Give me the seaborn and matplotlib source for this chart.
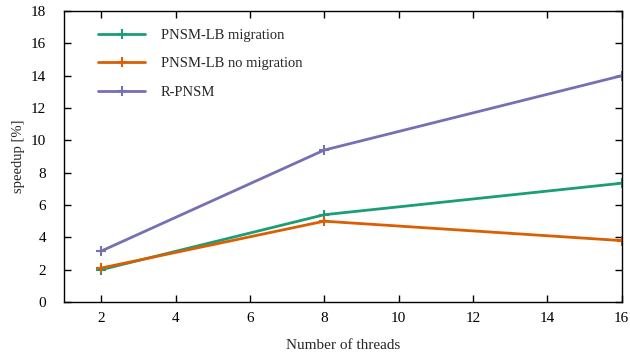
import matplotlib
matplotlib.use("Agg")
import matplotlib.pyplot as plt
import seaborn as sns
import pandas as pd

threads = [2, 8, 16]
lb_migration = [2.0, 5.4, 7.35]
lb_no_migration = [2.1, 5.0, 3.8]
r_pnsm = [3.15, 9.4, 14.0]
series_names = ["PNSM-LB migration", "PNSM-LB no migration", "R-PNSM"]
colors = ["#1b9e77", "#d95f02", "#7570b3"]
x_ticks = [2, 4, 6, 8, 10, 12, 14, 16]
y_ticks = [0, 2, 4, 6, 8, 10, 12, 14, 16, 18]

frames = []
for name, vals in zip(series_names, [lb_migration, lb_no_migration, r_pnsm]):
    frames.append(pd.DataFrame({"threads": threads, "speedup": vals, "series": name}))
df = pd.concat(frames, ignore_index=True)

sns.set_theme(style="ticks")
plt.rcParams["font.family"] = ["Liberation Serif", "DejaVu Serif"]
plt.rcParams["font.size"] = 11

fig = plt.figure(figsize=(6.3, 3.58), dpi=100)
ax = fig.add_axes([0.1016, 0.1564, 0.885, 0.8126])

sns.lineplot(data=df, x="threads", y="speedup", hue="series", hue_order=series_names,
             palette=colors, marker="+", markersize=7, markeredgewidth=1.5,
             linewidth=2, ax=ax, legend=True)

# '+' markers take the series colour
for line in ax.lines:
    line.set_markeredgecolor(line.get_color())

ax.set_xlim(1, 16)
ax.set_ylim(0, 18)
ax.set_xticks(x_ticks)
ax.set_yticks(y_ticks)
ax.tick_params(direction="in", top=True, right=True, length=5, width=1,
               labelsize=11, colors="black")
ax.tick_params(axis="y", pad=13)
ax.tick_params(axis="x", pad=7)
for s in ax.spines.values():
    s.set_visible(True)
    s.set_color("black")
    s.set_linewidth(1)
ax.set_xlabel("Number of threads", fontsize=11, labelpad=10)
ax.set_ylabel("speedup [%]", fontsize=10.5, labelpad=4)

leg = ax.legend(loc="upper left", frameon=False, fontsize=10.5, handlelength=3.2,
                handletextpad=1.1, labelspacing=1.05, borderaxespad=0.8,
                bbox_to_anchor=(0.03, 1.0))
for line in leg.get_lines():
    line.set_linewidth(2)
    line.set_markeredgecolor(line.get_color())

fig.savefig("out.png", dpi=100)
